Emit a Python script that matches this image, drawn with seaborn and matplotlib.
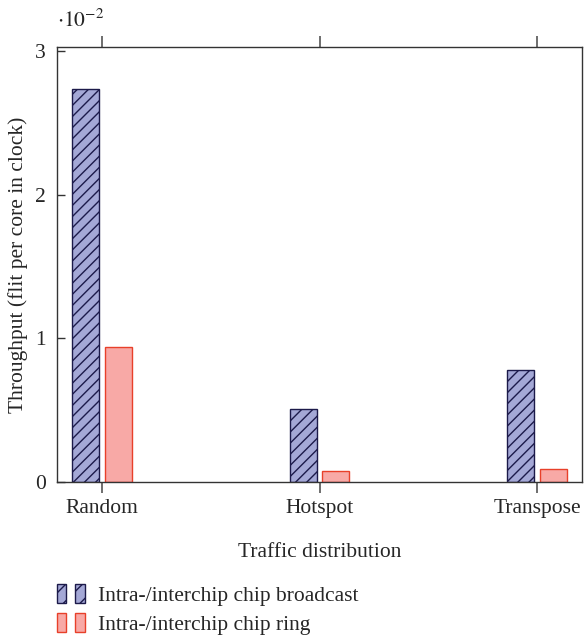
import matplotlib
matplotlib.use("Agg")
import matplotlib.pyplot as plt
import seaborn as sns
import pandas as pd
from matplotlib.patches import Patch
from matplotlib.legend_handler import HandlerTuple

categories = ["Random", "Hotspot", "Transpose"]
series = ["Intra-/interchip chip broadcast", "Intra-/interchip chip ring"]
broadcast = [2.74, 0.51, 0.78]
ring = [0.94, 0.076, 0.092]

df = pd.DataFrame({
    "cat": categories * 2,
    "series": [series[0]] * 3 + [series[1]] * 3,
    "val": broadcast + ring,
})

sns.set_style("white")
plt.rcParams["font.family"] = ["Liberation Serif", "DejaVu Serif"]
plt.rcParams["mathtext.fontset"] = "stix"
plt.rcParams["hatch.linewidth"] = 1.0

fills = ["#a4a8d6", "#f8a9a6"]
edges = ["#1c1a4a", "#e8402a"]
FS = 15.5

fig = plt.figure(figsize=(5.84, 6.37), dpi=100)
ax = fig.add_axes([0.0976, 0.2433, 0.8990, 0.6827])

sns.barplot(data=df, x="cat", y="val", hue="series", order=categories,
            hue_order=series, palette=fills, saturation=1, width=0.296, gap=0.16,
            legend=False, ax=ax)

for i, cont in enumerate(ax.containers):
    for p in cont:
        p.set_edgecolor(edges[i])
        p.set_linewidth(1.0)
        if i == 0:
            p.set_hatch("///")

ax.set_xlim(-0.207, 2.207)
ax.set_ylim(0, 3.03)
ax.set_yticks([0, 1, 2, 3])
ax.set_yticklabels(["0", "1", "2", "3"])
ax.set_xticks([0, 1, 2])
ax.set_xticklabels(categories)

for s in ax.spines.values():
    s.set_color("#333333")
    s.set_linewidth(1.0)

ax.tick_params(axis="y", direction="in", length=6, width=1, color="#333333",
               labelsize=FS, pad=8, left=True, right=False)
ax.tick_params(axis="x", direction="out", length=8, width=1.2, color="#555555",
               labelsize=FS, pad=4, bottom=True, top=True)

ax.set_xlabel("Traffic distribution", fontsize=FS, labelpad=18)
ax.set_ylabel("Throughput (flit per core in clock)", fontsize=FS, labelpad=5)

ax.text(0.0, 1.035, r"$\cdot 10^{-2}$", transform=ax.transAxes, fontsize=FS,
        ha="left", va="bottom")

h1 = (Patch(facecolor=fills[0], edgecolor=edges[0], hatch="//"),
      Patch(facecolor=fills[0], edgecolor=edges[0], hatch="//"))
h2 = (Patch(facecolor=fills[1], edgecolor=edges[1]),
      Patch(facecolor=fills[1], edgecolor=edges[1]))
fig.legend([h1, h2], series, handler_map={tuple: HandlerTuple(ndivide=None, pad=0.45)},
           loc="upper left", bbox_to_anchor=(0.097, 0.083), frameon=False,
           fontsize=FS, handlelength=1.3, handleheight=1.0, handletextpad=0.6,
           labelspacing=0.3, borderaxespad=0, borderpad=0)

fig.savefig("out.png", dpi=100)
